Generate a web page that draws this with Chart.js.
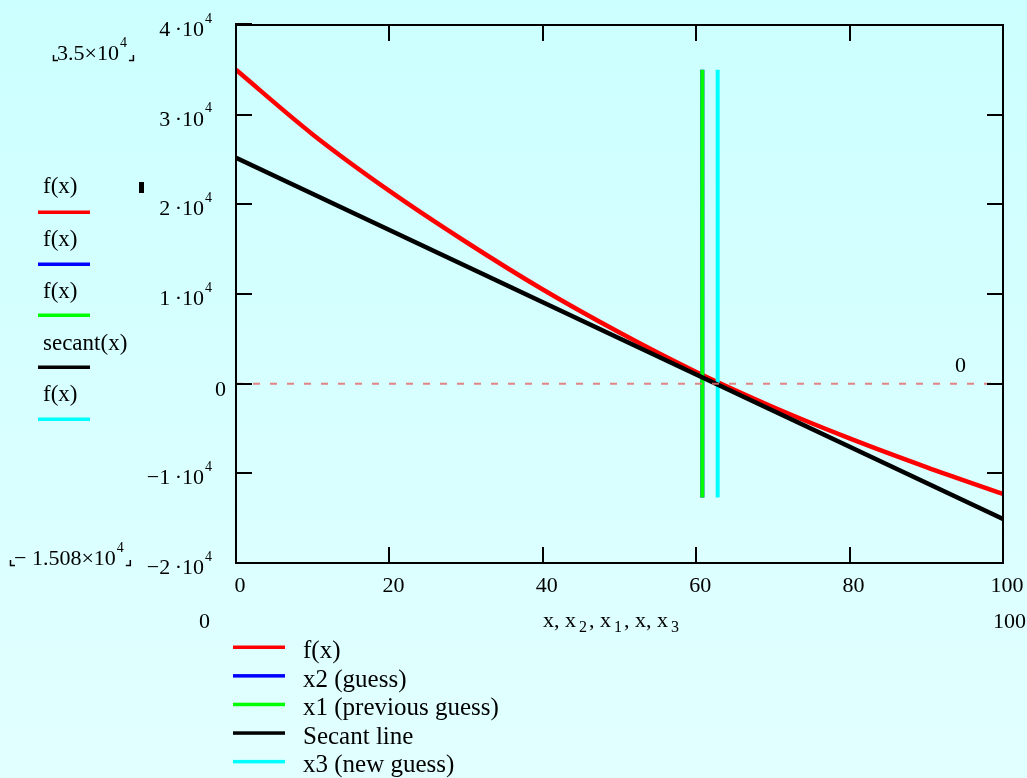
<!DOCTYPE html>
<html><head><meta charset="utf-8">
<script src="https://cdn.jsdelivr.net/npm/chart.js@4"></script>
<style>
html,body{margin:0;padding:0;}
body{width:1027px;height:778px;background:linear-gradient(#ccffff,#e2ffff);overflow:hidden;}
#wrap{position:absolute;left:0;top:0;width:1027px;height:778px;}
</style></head><body>
<div id="wrap"><canvas id="c" width="1027" height="778"></canvas></div>
<script>
// ---- data ----
const xValues = [0, 10, 20, 30, 40, 50, 60, 70, 80, 90, 100];
const fValues = [35000, 27800, 21500, 15800, 10500, 5700, 1300, -2600, -6100, -9300, -12300];
const secantX = [0, 100];
const secantValues = [25200, -15080];
const x2Guess = 60.8;
const x1Previous = 60.8;
const x3New = 62.8;
const guessLineRange = [-12700, 35000];
const zeroLineX = [0, 100];
const zeroLine = [0, 0];
const xTicks = [0, 20, 40, 60, 80, 100];
const yTicks = [40000, 30000, 20000, 10000, 0, -10000, -20000];
const yTickLabels = [["4\u2009·10","4"],["3\u2009·10","4"],["2\u2009·10","4"],["1\u2009·10","4"],["0",""],["−1\u2009·10","4"],["−2\u2009·10","4"]];
const legendNames = ["f(x)", "x2 (guess)", "x1 (previous guess)", "Secant line", "x3 (new guess)"];
const traceNames = ["f(x)", "f(x)", "f(x)", "secant(x)", "f(x)"];
const colors = ["#ff0000", "#0000ff", "#00ff00", "#000000", "#00ffff"];

const pts = (xs, ys) => xs.map((x, i) => ({x, y: ys[i]}));
const vline = (x) => guessLineRange.map(y => ({x, y}));

const FONT = '"Liberation Serif","Times New Roman",serif';

function drawSup(ctx, main, sup, x, y, size, align) {
  ctx.font = size + 'px ' + FONT;
  const wm = ctx.measureText(main).width;
  const ss = Math.round(size * 0.64);
  ctx.font = ss + 'px ' + FONT;
  const ws = sup ? ctx.measureText(sup).width + 1 : 0;
  const total = wm + ws;
  let sx = align === 'right' ? x - total : (align === 'center' ? x - total / 2 : x);
  ctx.textAlign = 'left';
  ctx.textBaseline = 'alphabetic';
  ctx.font = size + 'px ' + FONT;
  ctx.fillText(main, sx, y);
  if (sup) {
    ctx.font = ss + 'px ' + FONT;
    ctx.fillText(sup, sx + wm + 1, y - size * 0.6);
  }
  return {left: sx, right: sx + total};
}

const decor = {
  id: 'decor',
  afterDraw(chart) {
    const ctx = chart.ctx;
    const xs = chart.scales.x, ys = chart.scales.y;
    const L = xs.getPixelForValue(0), R = xs.getPixelForValue(100);
    const T = ys.getPixelForValue(40000), B = ys.getPixelForValue(-20000);
    ctx.save();
    ctx.strokeStyle = '#000';
    ctx.lineWidth = 2;
    ctx.strokeRect(L, T, R - L, B - T);
    ctx.beginPath();
    xTicks.forEach(v => {
      const p = Math.round(xs.getPixelForValue(v));
      ctx.moveTo(p, B); ctx.lineTo(p, B - 16);
      ctx.moveTo(p, T); ctx.lineTo(p, T + 16);
    });
    yTicks.forEach(v => {
      const p = Math.round(ys.getPixelForValue(v));
      ctx.moveTo(L, p); ctx.lineTo(L + 16, p);
      ctx.moveTo(R, p); ctx.lineTo(R - 16, p);
    });
    ctx.stroke();
    ctx.fillStyle = '#000';
    ctx.fillRect(L - 1, T - 2, 17, 3);
    // x tick labels
    ctx.font = '22px ' + FONT;
    ctx.textAlign = 'center';
    ctx.textBaseline = 'alphabetic';
    xTicks.forEach(v => ctx.fillText(String(v), xs.getPixelForValue(v) + 4, B + 29));
    // y tick labels
    yTicks.forEach((v, i) => {
      const p = ys.getPixelForValue(v);
      if (v === 0) {
        ctx.font = '22px ' + FONT; ctx.textAlign = 'right';
        ctx.fillText('0', 226, p + 12);
      } else {
        drawSup(ctx, yTickLabels[i][0], yTickLabels[i][1], 212, p + 11, 22, 'right');
      }
    });
    // range labels
    ctx.font = '22px ' + FONT;
    ctx.textAlign = 'left';
    ctx.fillText('0', 199, 628);
    ctx.textAlign = 'right';
    ctx.fillText('100', 1026, 628);
    // top/bottom range labels with corner marks
    const r1 = drawSup(ctx, '3.5×10', '4', 57, 60, 22, 'left');
    const r2 = drawSup(ctx, '− 1.508×10', '4', 14, 565, 22, 'left');
    ctx.lineWidth = 1.5;
    [[r1, 60], [r2, 565]].forEach(([r, y]) => {
      ctx.beginPath();
      ctx.moveTo(r.left - 3.5, y - 5); ctx.lineTo(r.left - 3.5, y + 0.5); ctx.lineTo(r.left + 1, y + 0.5);
      ctx.moveTo(r.right + 2, y + 0.5); ctx.lineTo(r.right + 6.5, y + 0.5); ctx.lineTo(r.right + 6.5, y - 5);
      ctx.stroke();
    });
    // small marker
    ctx.fillRect(139, 182, 5, 11);
    // zero marker label
    ctx.font = '22px ' + FONT;
    ctx.textAlign = 'left';
    ctx.fillText('0', 955, 372);
    // x axis title with subscripts
    let xx = 543;
    const parts = [['x, x', ''], ['', '2'], [', x', ''], ['', '1'], [', x, x', ''], ['', '3']];
    parts.forEach(([m, s]) => {
      if (m) { ctx.font = '22px ' + FONT; ctx.fillText(m, xx, 627); xx += ctx.measureText(m).width; }
      if (s) { ctx.font = '16px ' + FONT; ctx.fillText(s, xx + 3, 632); xx += ctx.measureText(s).width + 5; }
    });
    // left trace legend
    const textBase = [193, 246, 298, 350, 401];
    const lineY = [212, 264, 315, 367, 419];
    traceNames.forEach((t, i) => {
      ctx.font = '23px ' + FONT;
      ctx.textAlign = 'left';
      ctx.fillStyle = '#000';
      ctx.fillText(t, 43, textBase[i]);
      ctx.fillStyle = colors[i];
      ctx.fillRect(38, lineY[i] - 1.5, 52, 3.5);
    });
    // bottom legend
    legendNames.forEach((t, i) => {
      const y = 647 + i * 28.6;
      ctx.fillStyle = colors[i];
      ctx.fillRect(233, y - 1.5, 52, 3.5);
      ctx.fillStyle = '#000';
      ctx.font = '25px ' + FONT;
      ctx.textAlign = 'left';
      ctx.fillText(t, 303, y + 11);
    });
    ctx.restore();
  }
};

new Chart(document.getElementById('c'), {
  type: 'scatter',
  data: {
    datasets: [
      {label: 'zero', order: 0, data: pts(zeroLineX, zeroLine), showLine: true, borderColor: 'rgba(228,110,110,0.85)', borderWidth: 2, borderDash: [7, 10], pointRadius: 0},
      {label: legendNames[0], order: 5, data: pts(xValues, fValues), showLine: true, borderColor: colors[0], borderWidth: 4.5, pointRadius: 0, cubicInterpolationMode: 'monotone'},
      {label: legendNames[1], order: 4, data: vline(x2Guess), showLine: true, borderColor: colors[1], borderWidth: 4, pointRadius: 0},
      {label: legendNames[2], order: 3, data: vline(x1Previous), showLine: true, borderColor: colors[2], borderWidth: 4, pointRadius: 0},
      {label: legendNames[4], order: 2, data: vline(x3New), showLine: true, borderColor: colors[4], borderWidth: 4, pointRadius: 0},
      {label: legendNames[3], order: 1, data: pts(secantX, secantValues), showLine: true, borderColor: colors[3], borderWidth: 4.5, pointRadius: 0}
    ]
  },
  options: {
    responsive: false,
    animation: false,
    layout: {padding: {left: 236, top: 25, right: 24, bottom: 215}},
    plugins: {legend: {display: false}, tooltip: {enabled: false}},
    scales: {
      x: {type: 'linear', min: 0, max: 100, display: false},
      y: {type: 'linear', min: -20000, max: 40000, display: false}
    }
  },
  plugins: [decor]
});
</script>
</body></html>
